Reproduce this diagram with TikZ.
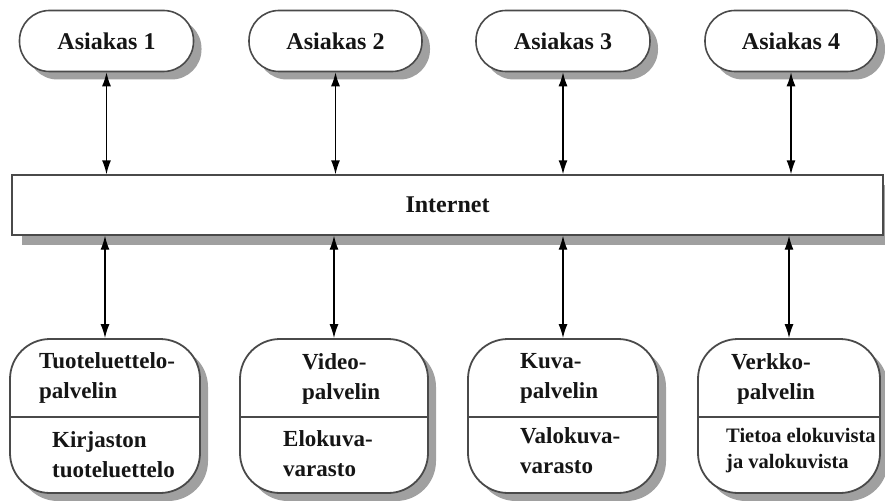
\documentclass[tikz,border=0pt]{standalone}
\usepackage{fontspec}
\setmainfont{Liberation Serif}[BoldFont={Liberation Serif Bold}]
\usetikzlibrary{arrows.meta,shadows}
\definecolor{edge}{HTML}{4A4A4A}
\definecolor{shade}{HTML}{A0A0A0}
\definecolor{ink}{HTML}{151515}
\newfontfamily\boxfont{Liberation Serif Bold}
\tikzset{
  pill/.style={draw=edge, line width=1.6pt, fill=white, minimum height=61pt,
    rounded corners=30pt, font=\boxfont\fontsize{24}{26}\selectfont, text=ink,
    drop shadow={shadow xshift=8pt, shadow yshift=-8pt, fill=shade, opacity=1}},
  server/.style={draw=edge, line width=1.8pt, fill=white, minimum height=154pt,
    rounded corners=40pt,
    drop shadow={shadow xshift=8pt, shadow yshift=-8pt, fill=shade, opacity=1}},
  netbox/.style={draw=edge, line width=1.4pt, fill=white, minimum width=871pt,
    minimum height=60pt, font=\boxfont\fontsize{24}{26}\selectfont, text=ink,
    drop shadow={shadow xshift=10pt, shadow yshift=-10pt, fill=shade, opacity=1}},
  label/.style={inner sep=0pt, text=ink, font=\boxfont\fontsize{23}{30}\selectfont},
  small/.style={inner sep=0pt, text=ink, font=\boxfont\fontsize{20.5}{26}\selectfont},
  link/.style={line width=1.4pt, black, {Latex[length=14pt,width=9pt]}-{Latex[length=14pt,width=9pt]}},
  divider/.style={draw=edge, line width=1.8pt}
}
\begin{document}
\begin{tikzpicture}[x=1pt,y=-1pt]
  \useasboundingbox[fill=white] (0,0) rectangle (885,500);

  % clients
  \node[pill, minimum width=174pt] (c1) at (106.5,41) {Asiakas 1};
  \node[pill, minimum width=173pt] (c2) at (335.5,41) {Asiakas 2};
  \node[pill, minimum width=174pt] (c3) at (563,41) {Asiakas 3};
  \node[pill, minimum width=172pt] (c4) at (791,41) {Asiakas 4};

  % network
  \node[netbox] (net) at (447.5,205) {Internet};

  % servers
  \node[server, minimum width=190pt] (s1) at (105,416) {};
  \node[server, minimum width=188pt] (s2) at (334,416) {};
  \node[server, minimum width=190pt] (s3) at (563,416) {};
  \node[server, minimum width=182pt] (s4) at (789,416) {};

  \foreach \s in {s1,s2,s3,s4}
    \draw[divider] (\s.west |- 0,417) -- (\s.east |- 0,417);

  % server texts
  \node[label, anchor=west, align=left] (t1a) at (39,377.5) {Tuoteluettelo-\\palvelin};
  \node[label, anchor=west, align=left] (t1b) at (52,455) {Kirjaston\\tuoteluettelo};
  \node[label, anchor=west, align=left] (t2a) at (302,379) {Video-\\palvelin};
  \node[label, anchor=west, align=left] (t2b) at (283,453.5) {Elokuva-\\varasto};
  \node[label, anchor=west, align=left] (t3a) at (520,378.5) {Kuva-\\palvelin};
  \node[label, anchor=west, align=left] (t3b) at (520,451) {Valokuva-\\varasto};
  \node[label, align=center] (t4a) at (771,378.5) {Verkko-\\\hspace*{10pt}palvelin};
  \node[small, anchor=west, align=left] (t4b) at (726,450.5) {Tietoa elokuvista\\ja valokuvista};

  % connections
  \foreach \c/\s in {c1/s1,c2/s2,c3/s3,c4/s4}{
    \draw[link] (\c.south) -- (\c.south |- net.north);
    \draw[link] (\s.north |- net.south) -- (\s.north);
  }
\end{tikzpicture}
\end{document}
